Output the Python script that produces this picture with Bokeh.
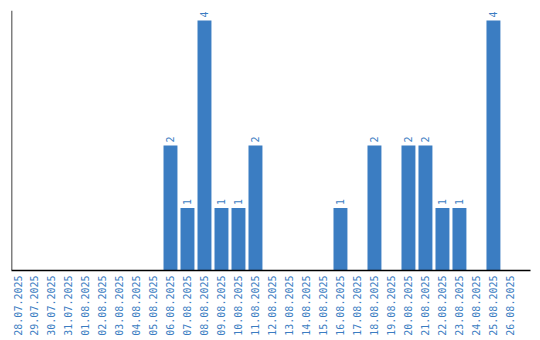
import math
from bokeh.plotting import figure
from bokeh.models import ColumnDataSource, Span, Range1d, FixedTicker
from bokeh.core.properties import value
from bokeh.embed import file_html
from bokeh.resources import INLINE

dates = ["28.07.2025", "29.07.2025", "30.07.2025", "31.07.2025",
         "01.08.2025", "02.08.2025", "03.08.2025", "04.08.2025", "05.08.2025",
         "06.08.2025", "07.08.2025", "08.08.2025", "09.08.2025", "10.08.2025",
         "11.08.2025", "12.08.2025", "13.08.2025", "14.08.2025", "15.08.2025",
         "16.08.2025", "17.08.2025", "18.08.2025", "19.08.2025", "20.08.2025",
         "21.08.2025", "22.08.2025", "23.08.2025", "24.08.2025", "25.08.2025",
         "26.08.2025"]
counts = [0, 0, 0, 0,
          0, 0, 0, 0, 0,
          2, 1, 4, 1, 1,
          2, 0, 0, 0, 0,
          1, 0, 2, 0, 2,
          2, 1, 1, 0, 4,
          0]

BLUE = "#3b7dc2"

idx = list(range(len(dates)))
src = ColumnDataSource(dict(x=idx, v=counts))
nz = [i for i, c in enumerate(counts) if c > 0]
lab = ColumnDataSource(dict(x=nz, v=[counts[i] for i in nz],
                            t=[str(counts[i]) for i in nz]))

p = figure(width=540, height=340, output_backend="svg", toolbar_location=None,
           x_range=Range1d(-0.353, 30.18), y_range=Range1d(0, 4.16),
           min_border_left=11, min_border_right=10, min_border_top=10,
           min_border_bottom=70)
p.outline_line_color = None
p.xgrid.visible = False
p.ygrid.visible = False
p.yaxis.visible = False

p.vbar(x="x", top="v", width=0.82, source=src, fill_color=BLUE, line_color=None)
p.text(x="x", y="v", text="t", source=lab, angle=math.pi / 2, y_offset=-3,
       text_align="left", text_baseline="middle", text_color=BLUE,
       text_font=value("DejaVu Sans Mono"), text_font_size="10px")

p.add_layout(Span(location=-0.353, dimension="height", line_color="black", line_width=1.5))

ax = p.xaxis[0]
ax.ticker = FixedTicker(ticks=idx)
ax.major_label_overrides = {i: d for i, d in zip(idx, dates)}
ax.axis_line_color = "black"
ax.axis_line_width = 1.5
ax.major_tick_line_color = None
ax.minor_tick_line_color = None
ax.major_tick_out = 0
ax.major_tick_in = 0
ax.major_label_orientation = math.pi / 2
ax.major_label_standoff = 5
ax.major_label_text_color = BLUE
ax.major_label_text_font = "DejaVu Sans Mono"
ax.major_label_text_font_size = "10px"

open("out.html", "w").write(file_html(p, INLINE))
